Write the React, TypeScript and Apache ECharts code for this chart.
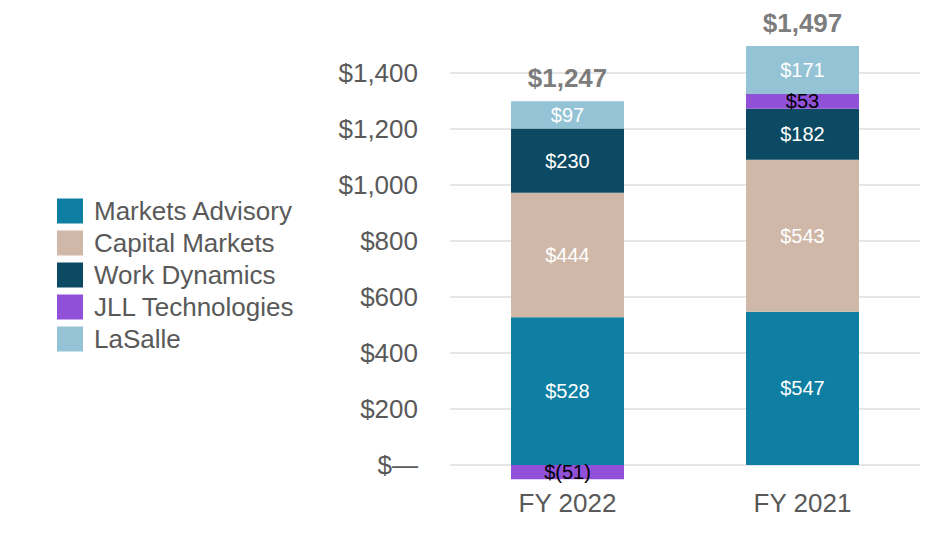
import React, { useEffect, useRef } from "react";
import * as echarts from "echarts";

const categories = ["FY 2022", "FY 2021"];
const marketsAdvisory = [528, 547];
const capitalMarkets = [444, 543];
const workDynamics = [230, 182];
const jllTechnologies = [-51, 53];
const laSalle = [97, 171];
const totals = [1247, 1497];

const seriesNames = ["Markets Advisory", "Capital Markets", "Work Dynamics", "JLL Technologies", "LaSalle"];
const seriesColors = ["#0e7ea2", "#d0b8a8", "#0b4a62", "#9050d8", "#94c3d5"];
const labelColors = ["#ffffff", "#ffffff", "#ffffff", "#000000", "#ffffff"];

const Y_MIN = 0;
const Y_MAX = 1500;
const Y_INTERVAL = 200;
const Y_LAST_LABEL = 1400;

const FONT = "'Liberation Sans', Arial, Helvetica, sans-serif";
const GRAY = "#595959";

function fmtSeg(v: number): string {
  return v < 0 ? `$(${-v})` : `$${v}`;
}

export default function App() {
  const ref = useRef<HTMLDivElement>(null);

  useEffect(() => {
    document.body.style.margin = "0";
    if (!ref.current) return;
    const chart = echarts.init(ref.current, undefined, { renderer: "svg" });
    const allSeries = [marketsAdvisory, capitalMarkets, workDynamics, jllTechnologies, laSalle];
    const positiveTops = categories.map((_, i) =>
      allSeries.reduce((s, arr) => s + (arr[i] > 0 ? arr[i] : 0), 0)
    );

    const bars = allSeries.map((data, idx) => ({
      name: seriesNames[idx],
      type: "bar",
      stack: "total",
      barWidth: 113,
      clip: false,
      data,
      itemStyle: { color: seriesColors[idx] },
      label: {
        show: true,
        position: "inside",
        color: labelColors[idx],
        fontSize: 20,
        fontFamily: FONT,
        formatter: (p: any) => fmtSeg(p.value),
      },
      emphasis: { disabled: true },
    }));

    chart.setOption({
      animation: false,
      textStyle: { fontFamily: FONT },
      legend: {
        data: seriesNames,
        orient: "vertical",
        left: 52,
        top: 193,
        itemWidth: 26,
        itemHeight: 25,
        itemGap: 6,
        icon: "rect",
        selectedMode: false,
        textStyle: {
          fontSize: 26,
          color: GRAY,
          fontFamily: FONT,
          padding: [0, 0, 0, 6],
          lineHeight: 25,
        },
      },
      grid: { left: 450, right: 30, top: 45, bottom: 85, containLabel: false },
      xAxis: {
        type: "category",
        data: categories,
        axisLine: { show: false },
        axisTick: { show: false },
        axisLabel: { fontSize: 26, color: GRAY, margin: 25, fontFamily: FONT },
      },
      yAxis: {
        type: "value",
        min: Y_MIN,
        max: Y_MAX,
        interval: Y_INTERVAL,
        axisLine: { show: false },
        axisTick: { show: false },
        splitLine: { show: true, showMaxLine: false, lineStyle: { color: "#e6e6e6", width: 2 } },
        axisLabel: {
          fontSize: 26,
          color: GRAY,
          margin: 32,
          fontFamily: FONT,
          showMaxLabel: false,
          formatter: (v: number) => {
            if (v > Y_LAST_LABEL) return "";
            if (v === 0) return "$\u2014";
            return "$" + v.toLocaleString("en-US");
          },
        },
      },
      series: [
        ...bars,
        {
          name: "Total",
          type: "scatter",
          symbolSize: 0,
          data: positiveTops,
          silent: true,
          label: {
            show: true,
            position: "top",
            distance: 10,
            fontSize: 26,
            fontWeight: "bold",
            color: GRAY,
            fontFamily: FONT,
            formatter: (p: any) => "$" + totals[p.dataIndex].toLocaleString("en-US"),
          },
        },
      ],
    });
    return () => chart.dispose();
  }, []);

  return <div ref={ref} style={{ width: 950, height: 550 }} />;
}
